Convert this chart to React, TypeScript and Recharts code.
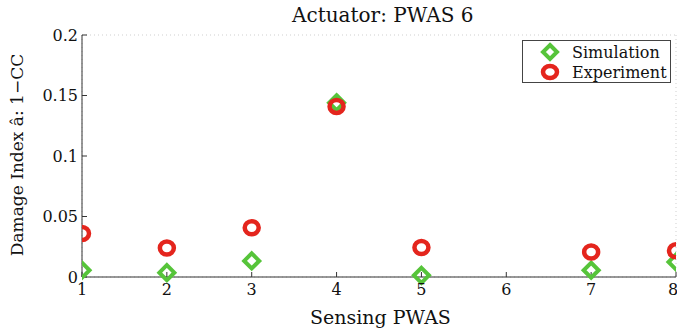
import { ScatterChart, Scatter, XAxis, YAxis, CartesianGrid } from 'recharts'

const sensors = [1, 2, 3, 4, 5, 7, 8]
const simulation = [0.0056, 0.0036, 0.0133, 0.144, 0.0014, 0.0056, 0.0124]
const experiment = [0.036, 0.024, 0.0407, 0.141, 0.0244, 0.0207, 0.0216]
const xTicks = [1, 2, 3, 4, 5, 6, 7, 8]
const yTicks = [0, 0.05, 0.1, 0.15, 0.2]

const GREEN = '#56c43a'
const RED = '#e4251d'
const AXIS = '#333'
const FONT = '"DejaVu Serif", serif'

const simData = sensors.map((s, i) => ({ x: s, y: simulation[i] }))
const expData = sensors.map((s, i) => ({ x: s, y: experiment[i] }))

const Diamond = (props: any) => {
  const { cx, cy } = props
  const h = 7.5
  return (
    <path
      d={`M${cx},${cy - h} L${cx + h},${cy} L${cx},${cy + h} L${cx - h},${cy} Z`}
      fill="none"
      stroke={GREEN}
      strokeWidth={4}
    />
  )
}

const Ring = (props: any) => {
  const { cx, cy } = props
  return <ellipse cx={cx} cy={cy} rx={7} ry={6.5} fill="none" stroke={RED} strokeWidth={4.5} />
}

const tickStyle = { fill: '#111', fontSize: 16, fontFamily: FONT }

export default function App() {
  return (
    <div style={{ position: 'fixed', left: 0, top: 0, width: 677, height: 331, background: '#fff', fontFamily: FONT, color: '#111' }}>
      <ScatterChart width={677} height={331} margin={{ top: 35, right: 1, bottom: 0, left: 0 }}>
        <CartesianGrid stroke="#cfcfcf" strokeDasharray="1 3" />
        <XAxis
          xAxisId="b"
          type="number"
          dataKey="x"
          domain={[1, 8]}
          ticks={xTicks}
          height={54}
          tick={tickStyle}
          tickSize={-5}
          tickMargin={12}
          stroke={AXIS}
          allowDataOverflow
        />
        <XAxis
          xAxisId="t"
          orientation="top"
          type="number"
          dataKey="x"
          domain={[1, 8]}
          ticks={xTicks}
          height={0}
          tick={false}
          tickSize={-5}
          stroke={AXIS}
          allowDataOverflow
        />
        <YAxis
          yAxisId="l"
          type="number"
          dataKey="y"
          domain={[0, 0.2]}
          ticks={yTicks}
          width={82}
          tick={tickStyle}
          tickSize={-5}
          tickMargin={9}
          stroke={AXIS}
        />
        <YAxis
          yAxisId="r"
          orientation="right"
          type="number"
          dataKey="y"
          domain={[0, 0.2]}
          ticks={yTicks}
          width={0}
          tick={false}
          tickSize={-5}
          stroke={AXIS}
        />
        <Scatter
          name="Simulation"
          data={simData}
          xAxisId="b"
          yAxisId="l"
          shape={Diamond}
          isAnimationActive={false}
        />
        <Scatter
          name="Experiment"
          data={expData}
          xAxisId="b"
          yAxisId="l"
          shape={Ring}
          isAnimationActive={false}
        />
      </ScatterChart>

      <div style={{ position: 'absolute', left: 292, top: 3, fontSize: 20, whiteSpace: 'nowrap' }}>
        Actuator: PWAS 6
      </div>
      <div style={{ position: 'absolute', left: 310, top: 306, fontSize: 19, whiteSpace: 'nowrap' }}>
        Sensing PWAS
      </div>
      <div
        style={{
          position: 'absolute',
          left: 17,
          top: 155,
          transform: 'translate(-50%, -50%) rotate(-90deg)',
          whiteSpace: 'nowrap',
          fontSize: 17,
        }}
      >
        Damage Index â: 1−CC
      </div>

      <div
        style={{
          position: 'absolute',
          left: 522,
          top: 40,
          width: 149,
          height: 43,
          boxSizing: 'border-box',
          border: '1px solid #444',
          background: '#fff',
          fontSize: 16,
        }}
      >
        <div style={{ display: 'flex', alignItems: 'center', height: 20, marginTop: 1 }}>
          <svg width={49} height={20}>
            <path d="M27,3 L34,10 L27,17 L20,10 Z" fill="none" stroke={GREEN} strokeWidth={4} />
          </svg>
          <span>Simulation</span>
        </div>
        <div style={{ display: 'flex', alignItems: 'center', height: 20 }}>
          <svg width={49} height={20}>
            <ellipse cx={27} cy={10} rx={7} ry={6} fill="none" stroke={RED} strokeWidth={4.5} />
          </svg>
          <span>Experiment</span>
        </div>
      </div>
    </div>
  )
}
